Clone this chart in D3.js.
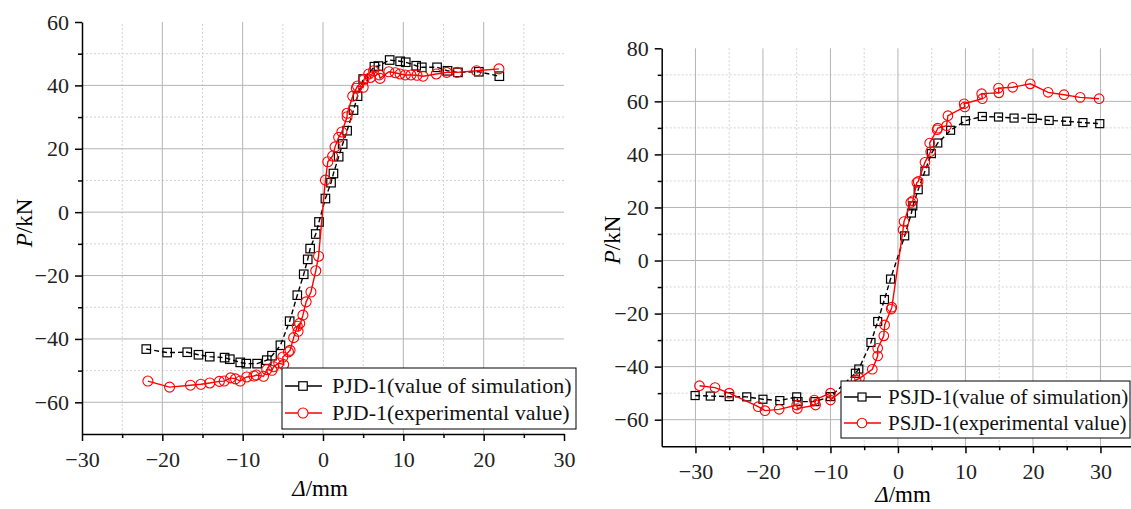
<!DOCTYPE html>
<html>
<head>
<meta charset="utf-8">
<script src="https://cdn.jsdelivr.net/npm/d3@7"></script>
<style>
	body { margin: 0; background: #fff; }
	svg { display: block; font-family: "Liberation Serif", "Times New Roman", serif; }
	.grid-major { stroke: #b4b4b4; stroke-width: 1; }
	.grid-minor { stroke: #d2d2d2; stroke-width: 1; stroke-dasharray: 2,2; }
	.axis path, .axis line { stroke: #000; stroke-width: 1.5; }
	.axis text { font-size: 22px; fill: #222; font-family: "Liberation Serif", "Times New Roman", serif; }
</style>
</head>
<body>
<svg id="chart" width="1131" height="509"></svg>
<script>
// ----- data, [delta mm, P kN] -----
const pjdSim = [
	[-22.0,-43.2],[-19.4,-44.3],[-16.9,-44.2],[-15.5,-45.0],[-14.1,-45.6],[-12.25,-45.9],[-11.6,-46.4],
	[-10.3,-47.4],[-9.55,-47.8],[-8.2,-47.8],[-7.0,-46.7],[-6.35,-45.3],[-5.3,-42.0],[-4.15,-34.4],
	[-3.2,-26.2],[-2.4,-19.6],[-1.9,-14.9],[-1.6,-11.5],[-0.9,-6.9],[-0.5,-3.1],[0.3,4.3],[1.0,9.3],
	[1.3,12.2],[1.95,17.5],[2.45,21.5],[3.0,25.7],[3.8,32.2],[4.3,36.6],[5.0,42.0],[6.4,45.9],[6.9,46.1],
	[8.3,48.0],[9.6,47.6],[10.3,47.3],[11.6,46.2],[12.3,45.7],[14.2,45.7],[15.5,44.6],[16.8,44.1],
	[19.4,44.3],[21.95,42.9]
];
const pjdExp = [
	[-21.8,-53.3],[-19.1,-55.2],[-16.5,-54.6],[-15.2,-54.3],[-14.1,-53.9],[-12.9,-53.4],[-12.3,-53.3],
	[-11.5,-52.3],[-10.9,-52.6],[-10.3,-53.3],[-9.5,-52.0],[-8.6,-51.7],[-8.3,-51.4],[-7.4,-51.8],
	[-7.0,-49.7],[-6.35,-49.9],[-6.15,-48.8],[-5.5,-47.6],[-4.9,-48.1],[-5.0,-45.7],[-4.3,-44.1],
	[-4.1,-43.6],[-3.65,-39.6],[-3.2,-36.0],[-2.9,-35.1],[-3.1,-37.6],[-2.5,-32.5],[-2.1,-28.3],
	[-1.5,-25.2],[-0.9,-18.5],[-0.55,-13.9],[0.3,10.1],[0.6,15.9],[1.2,17.7],[1.5,20.6],[1.95,23.6],
	[2.35,25.3],[3.0,30.1],[3.0,31.2],[3.7,36.6],[4.15,39.1],[4.3,39.8],[5.0,39.4],[5.1,41.9],[5.7,43.6],
	[5.9,42.5],[6.3,44.6],[7.0,43.3],[7.1,42.2],[8.2,44.3],[9.0,44.0],[9.6,43.6],[10.25,43.3],
	[10.95,43.3],[11.7,43.2],[12.45,42.9],[14.1,43.6],[15.4,44.1],[16.7,44.1],[19.1,44.6],[21.9,45.2]
];
const psjdSim = [
	[-30.05,-50.9],[-27.8,-51.1],[-25.0,-51.3],[-22.4,-51.4],[-20.0,-52.3],[-17.5,-52.8],[-15.0,-51.4],
	[-14.8,-53.2],[-12.3,-53.2],[-10.0,-51.3],[-6.3,-42.5],[-5.8,-40.9],[-4.0,-30.9],[-3.0,-23.0],
	[-2.0,-14.7],[-1.1,-7.0],[1.0,9.3],[2.0,17.9],[2.2,20.6],[3.0,26.7],[4.0,33.7],[4.95,40.3],
	[5.9,44.3],[7.8,49.1],[10.0,52.7],[12.5,54.3],[14.9,54.1],[17.2,53.7],[19.9,53.6],[22.4,52.8],
	[25.0,52.5],[27.4,52.0],[29.9,51.6]
];
const psjdExp = [
	[-29.4,-47.2],[-27.1,-47.9],[-25.0,-50.0],[-20.7,-55.1],[-19.7,-56.6],[-17.6,-56.1],[-15.0,-54.5],
	[-14.9,-55.8],[-12.2,-54.5],[-12.4,-52.6],[-10.0,-50.0],[-10.0,-52.6],[-6.2,-45.0],[-5.7,-44.4],
	[-3.8,-41.0],[-3.0,-36.0],[-3.0,-33.1],[-2.1,-28.4],[-1.97,-24.3],[-1.0,-18.3],[-0.9,-17.6],
	[0.75,11.6],[0.9,14.7],[1.9,21.9],[2.2,22.5],[2.8,29.4],[3.0,29.8],[4.0,37.0],[4.85,41.1],
	[4.7,44.3],[5.8,49.3],[5.9,49.9],[7.2,50.8],[7.4,54.6],[9.9,57.9],[9.8,59.1],[12.5,61.0],
	[12.4,62.9],[14.95,63.2],[14.9,65.0],[17.0,65.3],[19.6,66.6],[22.25,63.4],[24.6,62.5],[27.0,61.5],
	[29.8,61.0]
];

// tick values
const leftXMajor = [-30, -20, -10, 0, 10, 20, 30];
const leftXMinor = [-25, -15, -5, 5, 15, 25];
const leftYMajor = [-60, -40, -20, 0, 20, 40, 60];
const leftYMinor = [-50, -30, -10, 10, 30, 50];
const rightXMajor = [-30, -20, -10, 0, 10, 20, 30];
const rightXMinor = [-25, -15, -5, 5, 15, 25];
const rightYMajor = [-60, -40, -20, 0, 20, 40, 60, 80];
const rightYMinor = [-50, -30, -10, 10, 30, 50, 70];

const leftLegend = ['PJD-1(value of simulation)', 'PJD-1(experimental value)'];
const rightLegend = ['PSJD-1(value of simulation)', 'PSJD-1(experimental value)'];

const SERIF = '"Liberation Serif", "Times New Roman", serif';


class HysteresisPanel {

	/**
	* @param {object} svg d3 selection to draw in
	* @param {object} options panel settings
	*/
	constructor(svg, options) {
		this.svg = svg;
		this.settings = options;
		this.g = svg.append('g');
		this._createScales();
		this._addGrid();
		this._addSeries(this.settings.sim, 'sim');
		this._addSeries(this.settings.exp, 'exp');
		this._addAxes();
		this._addLabels();
		this._addLegend();
	}

	_createScales() {
		let s = this.settings;
		this.x = d3.scaleLinear().domain(s.xDomain).range(s.xRange);
		this.y = d3.scaleLinear().domain(s.yDomain).range(s.yRange);
	}

	_addGrid() {
		let s = this.settings,
			x = this.x,
			y = this.y,
			[x0, x1] = s.xRange,
			[y0, y1] = s.yRange;

		let grid = this.g.append('g');

		grid.selectAll('.vminor').data(s.xMinor).enter().append('line')
			.attr('class', 'grid-minor')
			.attr('x1', d => x(d)).attr('x2', d => x(d))
			.attr('y1', y0).attr('y2', y1);
		grid.selectAll('.hminor').data(s.yMinor).enter().append('line')
			.attr('class', 'grid-minor')
			.attr('x1', x0).attr('x2', x1)
			.attr('y1', d => y(d)).attr('y2', d => y(d));
		grid.selectAll('.vmajor').data(s.xMajor.filter(d => d > s.xDomain[0] && d < s.xDomain[1])).enter().append('line')
			.attr('class', 'grid-major')
			.attr('x1', d => x(d)).attr('x2', d => x(d))
			.attr('y1', y0).attr('y2', y1);
		grid.selectAll('.hmajor').data(s.yMajor.filter(d => d > s.yDomain[0] && d < s.yDomain[1])).enter().append('line')
			.attr('class', 'grid-major')
			.attr('x1', x0).attr('x2', x1)
			.attr('y1', d => y(d)).attr('y2', d => y(d));
	}

	_addSeries(data, kind) {
		let s = this.settings,
			x = this.x,
			y = this.y,
			isSim = kind === 'sim',
			color = isSim ? '#000' : '#f00';

		let line = d3.line().x(d => x(d[0])).y(d => y(d[1]));

		this.g.append('path')
			.datum(data)
			.attr('d', line)
			.attr('fill', 'none')
			.attr('stroke', color)
			.attr('stroke-width', 1.4)
			.attr('stroke-dasharray', isSim ? '5,3' : null);

		if (isSim) {
			let h = s.squareSize / 2;
			this.g.selectAll('.sq-' + kind).data(data).enter().append('rect')
				.attr('x', d => x(d[0]) - h)
				.attr('y', d => y(d[1]) - h)
				.attr('width', s.squareSize)
				.attr('height', s.squareSize)
				.attr('fill', 'none')
				.attr('stroke', '#000')
				.attr('stroke-width', 1.2);
		} else {
			this.g.selectAll('.ci-' + kind).data(data).enter().append('circle')
				.attr('cx', d => x(d[0]))
				.attr('cy', d => y(d[1]))
				.attr('r', s.circleRadius)
				.attr('fill', 'none')
				.attr('stroke', '#f00')
				.attr('stroke-width', 1.1);
		}
	}

	_addAxes() {
		let s = this.settings;

		// minor ticks first, no labels
		this.g.append('g')
			.attr('class', 'axis')
			.attr('transform', 'translate(0,' + s.yRange[0] + ')')
			.call(d3.axisBottom(this.x).tickValues(s.xMinor).tickSize(4).tickFormat(''))
			.select('.domain').remove();
		this.g.append('g')
			.attr('class', 'axis')
			.attr('transform', 'translate(' + s.xRange[0] + ',0)')
			.call(d3.axisLeft(this.y).tickValues(s.yMinor).tickSize(4).tickFormat(''))
			.select('.domain').remove();

		this.g.append('g')
			.attr('class', 'axis')
			.attr('transform', 'translate(0,' + s.yRange[0] + ')')
			.call(d3.axisBottom(this.x).tickValues(s.xMajor).tickSize(7).tickSizeOuter(0).tickPadding(10))
			.attr('font-family', SERIF)
			.attr('font-size', 22);
		this.g.append('g')
			.attr('class', 'axis')
			.attr('transform', 'translate(' + s.xRange[0] + ',0)')
			.call(d3.axisLeft(this.y).tickValues(s.yMajor).tickSize(7).tickSizeOuter(0).tickPadding(6))
			.attr('font-family', SERIF)
			.attr('font-size', 22);
	}

	_addLabels() {
		let s = this.settings;

		let yl = this.g.append('text')
			.attr('transform', 'translate(' + s.yLabelPos[0] + ',' + s.yLabelPos[1] + ') rotate(-90)')
			.attr('text-anchor', 'middle')
			.attr('dy', '0.35em')
			.attr('font-family', SERIF)
			.style('font-size', '23px');
		yl.append('tspan').style('font-style', 'italic').text('P');
		yl.append('tspan').text('/kN');

		let xl = this.g.append('text')
			.attr('x', s.xLabelPos[0])
			.attr('y', s.xLabelPos[1])
			.attr('text-anchor', 'middle')
			.attr('font-family', SERIF)
			.style('font-size', '23px');
		xl.append('tspan').style('font-style', 'italic').text('\u0394');
		xl.append('tspan').text('/mm');
	}

	_addLegend() {
		let s = this.settings,
			L = s.legend;

		let lg = this.g.append('g');
		lg.append('rect')
			.attr('x', L.x).attr('y', L.y)
			.attr('width', L.w).attr('height', L.h)
			.attr('fill', '#fff')
			.attr('stroke', '#000')
			.attr('stroke-width', 1);

		L.labels.forEach((label, i) => {
			let cy = L.y + L.rows[i],
				isSim = i === 0,
				color = isSim ? '#000' : '#f00',
				mx = L.x + L.markerX;

			lg.append('line')
				.attr('x1', L.x + 3).attr('x2', L.x + L.lineW)
				.attr('y1', cy).attr('y2', cy)
				.attr('stroke', color)
				.attr('stroke-width', 1.6);

			if (isSim) {
				lg.append('rect')
					.attr('x', mx - s.squareSize / 2).attr('y', cy - s.squareSize / 2)
					.attr('width', s.squareSize).attr('height', s.squareSize)
					.attr('fill', '#fff').attr('stroke', '#000').attr('stroke-width', 1.2);
			} else {
				lg.append('circle')
					.attr('cx', mx).attr('cy', cy).attr('r', s.circleRadius)
					.attr('fill', '#fff').attr('stroke', '#f00').attr('stroke-width', 1.1);
			}

			lg.append('text')
				.attr('x', L.x + L.textX)
				.attr('y', cy)
				.attr('dy', '0.33em')
				.attr('font-family', SERIF)
				.style('font-size', L.fontSize + 'px')
				.attr('fill', '#111')
				.text(label);
		});
	}
}


const svg = d3.select('#chart');

new HysteresisPanel(svg, {
	sim: pjdSim,
	exp: pjdExp,
	xDomain: [-30, 30], xRange: [82, 564],
	yDomain: [-70, 60], yRange: [434, 22],
	xMajor: leftXMajor, xMinor: leftXMinor,
	yMajor: leftYMajor, yMinor: leftYMinor,
	squareSize: 8.5, circleRadius: 5,
	yLabelPos: [24, 223],
	xLabelPos: [320, 496],
	legend: { x: 282, y: 368, w: 294, h: 61, rows: [18, 45], lineW: 40, markerX: 21, textX: 50, fontSize: 22, labels: leftLegend }
});

new HysteresisPanel(svg, {
	sim: psjdSim,
	exp: psjdExp,
	xDomain: [-35, 35], xRange: [661.7, 1134.2],
	yDomain: [-70, 80], yRange: [446.2, 48.3],
	xMajor: rightXMajor, xMinor: rightXMinor,
	yMajor: rightYMajor, yMinor: rightYMinor,
	squareSize: 8, circleRadius: 4.8,
	yLabelPos: [612, 240],
	xLabelPos: [903, 502],
	legend: { x: 841, y: 381, w: 289, h: 57, rows: [16, 42], lineW: 40, markerX: 21, textX: 47, fontSize: 21, labels: rightLegend }
});
</script>
</body>
</html>
